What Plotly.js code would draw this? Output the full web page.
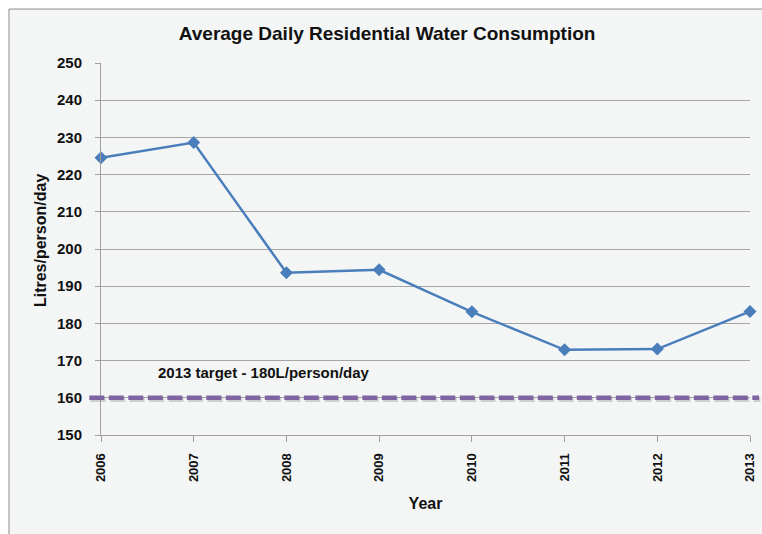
<!DOCTYPE html>
<html>
<head>
<meta charset="utf-8">
<script src="https://cdn.plot.ly/plotly-3.0.1.min.js"></script>
<style>html,body{margin:0;padding:0;background:#fff;}#chart{width:762px;height:534px;}</style>
</head>
<body>
<div id="chart"></div>
<script>
const years = [2006, 2007, 2008, 2009, 2010, 2011, 2012, 2013];
const consumption = [224.5, 228.6, 193.6, 194.4, 183.1, 172.9, 173.1, 183.2];
const targetValue = 160;
const targetLabel = '2013 target - 180L/person/day';
const yTicks = [150, 160, 170, 180, 190, 200, 210, 220, 230, 240, 250];

const font = 'Liberation Sans, Arial, sans-serif';

const traces = [{
  x: years,
  y: consumption,
  type: 'scatter',
  mode: 'lines+markers',
  line: {color: '#4A7EBB', width: 2.5},
  marker: {symbol: 'diamond', size: 10, color: '#4A7EBB'},
  cliponaxis: false,
  showlegend: false,
  hoverinfo: 'x+y'
}];

const layout = {
  width: 762, height: 534,
  margin: {l: 101, r: 12, t: 63, b: 99},
  paper_bgcolor: '#ffffff',
  plot_bgcolor: 'rgba(0,0,0,0)',
  font: {family: font, color: '#000', size: 13},
  title: {text: '<b>Average Daily Residential Water Consumption</b>', font: {family: font, size: 19, color: '#111'}, x: 0.508, xanchor: 'center', y: 0.938, yanchor: 'middle'},
  xaxis: {
    range: [2006, 2013], tickvals: years, ticktext: years.map(y => '<b>' + y + '</b>'), tickangle: -90,
    showgrid: false, zeroline: false, showline: true, linecolor: '#A0A0A0', linewidth: 1,
    ticks: 'outside', ticklen: 6, tickcolor: '#A0A0A0', ticklabelstandoff: 6,
    tickfont: {family: font, size: 13, color: '#111'},
    title: {text: '<b>Year</b>', font: {family: font, size: 16, color: '#111'}, standoff: 16}
  },
  yaxis: {
    range: [150, 250], tickvals: yTicks, ticktext: yTicks.map(v => '<b>' + v + '</b>'),
    showgrid: true, gridcolor: '#A6A6A6', gridwidth: 1,
    zeroline: false, showline: true, linecolor: '#A0A0A0', linewidth: 1,
    ticks: 'outside', ticklen: 5, tickcolor: '#A0A0A0', ticklabelstandoff: 10,
    tickfont: {family: font, size: 15, color: '#111'}
  },
  shapes: [
    {type: 'rect', xref: 'paper', yref: 'paper', x0: -0.1418, x1: 1.05, y0: -0.3, y1: 1.145,
     fillcolor: '#F4F6F6', line: {color: '#8C8C8C', width: 1}, layer: 'below'},
    {type: 'line', xref: 'paper', yref: 'y', x0: -0.016, x1: 1.016, y0: targetValue - 0.45, y1: targetValue - 0.45,
     line: {color: 'rgba(120,120,120,0.3)', width: 5, dash: '15px,4.5px'}, layer: 'above'},
    {type: 'line', xref: 'paper', yref: 'y', x0: -0.018, x1: 1.014, y0: targetValue, y1: targetValue,
     line: {color: '#8064A2', width: 4.5, dash: '15px,4.5px'}, layer: 'above'}
  ],
  annotations: [{
    x: 0.251, xref: 'paper', y: 166.7, yref: 'y', text: '<b>' + targetLabel + '</b>', showarrow: false,
    font: {family: font, size: 15, color: '#111'}, xanchor: 'center', yanchor: 'middle'
  }, {
    x: -0.094, xref: 'paper', y: 0.524, yref: 'paper', text: '<b>Litres/person/day</b>', showarrow: false,
    textangle: -90, font: {family: font, size: 16, color: '#111'}, xanchor: 'center', yanchor: 'middle'
  }]
};

Plotly.newPlot('chart', traces, layout, {displayModeBar: false, staticPlot: true});
</script>
</body>
</html>
